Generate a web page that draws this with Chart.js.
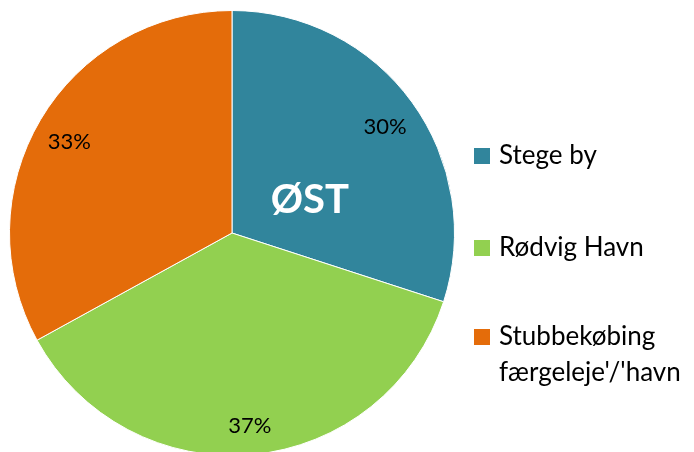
<!DOCTYPE html>
<html>
<head>
<meta charset="utf-8">
<script src="https://cdn.jsdelivr.net/npm/chart.js@4/dist/chart.umd.min.js"></script>
<style>
html,body{margin:0;padding:0;background:#fff;overflow:hidden;width:694px;height:452px;}
#wrap{position:absolute;left:0;top:0;width:694px;height:466px;}
</style>
</head>
<body>
<div id="wrap"><canvas id="c" width="694" height="466"></canvas></div>
<script>
const categories = ["Stege by", "Rødvig Havn", "Stubbekøbing færgeleje'/'havn"];
const legendLines = [["Stege by"], ["Rødvig Havn"], ["Stubbekøbing", "færgeleje'/'havn"]];
const values = [30, 37, 33];
const colors = ["#31859C", "#92D050", "#E46C0A"];
const centerTitle = "ØST";
const FONT = "Lato, 'Open Sans', sans-serif";

const labelPlugin = {
  id: 'labels',
  afterDatasetsDraw(chart) {
    const ctx = chart.ctx;
    const meta = chart.getDatasetMeta(0);
    const total = values.reduce((a, b) => a + b, 0);
    ctx.save();
    ctx.fillStyle = '#000';
    ctx.font = '22px ' + FONT;
    ctx.textAlign = 'center';
    ctx.textBaseline = 'middle';
    meta.data.forEach((arc, i) => {
      const p = arc.getProps(['x', 'y', 'startAngle', 'endAngle', 'outerRadius'], true);
      const mid = (p.startAngle + p.endAngle) / 2;
      const r = p.outerRadius * 0.85;
      ctx.fillText(Math.round(values[i] / total * 100) + '%', p.x + Math.cos(mid) * r, p.y + Math.sin(mid) * r + 5);
    });
    // center title
    const a0 = meta.data[0].getProps(['x', 'y', 'outerRadius'], true);
    ctx.fillStyle = '#fff';
    ctx.font = 'bold 40px ' + FONT;
    ctx.fillText(centerTitle, a0.x + a0.outerRadius * 0.35, a0.y - a0.outerRadius * 0.15);
    // legend
    const lx = chart.chartArea.right + 19;
    const ys = [156, 248, 337];
    ctx.textAlign = 'left';
    ctx.textBaseline = 'middle';
    ctx.font = '26px ' + FONT;
    legendLines.forEach((lines, i) => {
      ctx.fillStyle = colors[i];
      ctx.fillRect(lx, ys[i] - 8, 16, 16);
      ctx.fillStyle = '#000';
      lines.forEach((t, j) => ctx.fillText(t, lx + 25, ys[i] + j * 36));
    });
    ctx.restore();
  }
};

new Chart(document.getElementById('c'), {
  type: 'pie',
  data: {
    labels: categories,
    datasets: [{ data: values, backgroundColor: colors, borderColor: '#ffffff', borderWidth: 1 }]
  },
  options: {
    responsive: false,
    animation: false,
    layout: { padding: { left: 9, top: 10, right: 239, bottom: 10 } },
    plugins: { legend: { display: false }, tooltip: { enabled: false } }
  },
  plugins: [labelPlugin]
});
</script>
</body>
</html>
